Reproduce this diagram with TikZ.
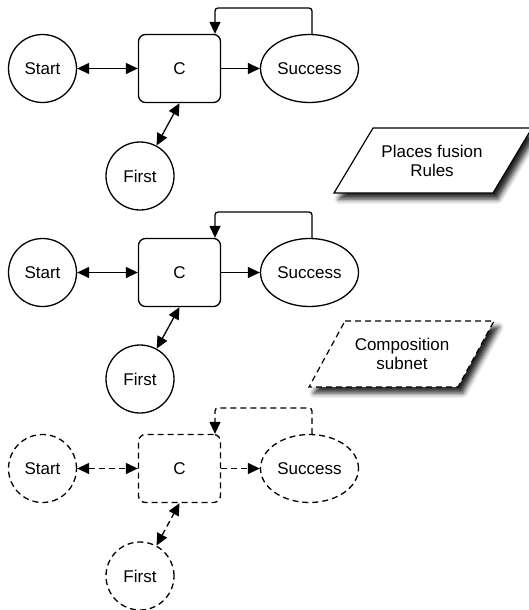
\documentclass[tikz,border=0pt]{standalone}
\usepackage{fontspec}
\setmainfont{Liberation Sans}
\usetikzlibrary{arrows.meta,shapes.geometric,shadows.blur}
\begin{document}
\begin{tikzpicture}[x=1pt,y=-1pt,
  every node/.style={font=\fontsize{17}{18.5}\selectfont},
  base/.style={draw=black, line width=1.3pt},
  place/.style={base, circle, minimum size=68pt, inner sep=0pt},
  goal/.style={base, ellipse, minimum width=98pt, minimum height=68pt, inner sep=0pt},
  trans/.style={base, rectangle, rounded corners=7pt, minimum width=82pt, minimum height=68pt, inner sep=0pt},
  tip/.style={Triangle[length=12pt,width=11pt,fill=black]},
  conn/.style={line width=1.3pt, {Triangle[length=12pt,width=11pt,fill=black]}-{Triangle[length=12pt,width=11pt,fill=black]}},
  oneway/.style={line width=1.3pt, -{Triangle[length=12pt,width=11pt,fill=black]}},
  dsh/.style={dash pattern=on 6pt off 4pt},
  note/.style={draw=black, line width=1.2pt, fill=white,
    blur shadow={shadow xshift=5pt, shadow yshift=-6pt, shadow blur radius=5pt, shadow opacity=85}},
  label/.style={align=center, inner sep=0pt}
]
\useasboundingbox (0,0) rectangle (528,610);

% ---------- group 1 ----------
\node[place] (s1) at (42.5,68.5) {Start};
\node[trans] (c1) at (179.5,68.5) {C};
\node[goal]  (g1) at (309.5,68.5) {Success};
\node[place] (f1) at (140,176) {First};
\coordinate (t1) at (215,8);
\draw[conn] (s1) -- (c1);
\draw[oneway] (c1) -- (g1);
\draw[conn] (f1) -- (c1.south);
\draw[oneway, rounded corners=3pt] ([xshift=2.5pt]g1.north) |- (t1) -- (t1 |- c1.north);

% ---------- group 2 ----------
\node[place] (s2) at (42.5,272.5) {Start};
\node[trans] (c2) at (179.5,272.5) {C};
\node[goal]  (g2) at (309.5,272.5) {Success};
\node[place] (f2) at (140,379) {First};
\coordinate (t2) at (215,212);
\draw[conn] (s2) -- (c2);
\draw[oneway] (c2) -- (g2);
\draw[conn] (f2) -- (c2.south);
\draw[oneway, rounded corners=3pt] ([xshift=2.5pt]g2.north) |- (t2) -- (t2 |- c2.north);

% ---------- group 3 (dashed) ----------
\node[place, dsh] (s3) at (42.5,468.5) {Start};
\node[trans, dsh] (c3) at (179.5,468.5) {C};
\node[goal, dsh]  (g3) at (309.5,468.5) {Success};
\node[place, dsh] (f3) at (140,576) {First};
\coordinate (t3) at (215,408);
\draw[conn, dsh] (s3) -- (c3);
\draw[oneway, dsh] (c3) -- (g3);
\draw[conn, dsh] (f3) -- (c3.south);
\draw[oneway, dsh, rounded corners=3pt] ([xshift=2.5pt]g3.north) |- (t3) -- (t3 |- c3.north);

% ---------- notes (drawn last) ----------
\begin{scope}
\path[note] (373,128) -- (532,128) -- (493,193) -- (334,193) -- cycle;
\end{scope}
\node[label] (n1) at (432,161) {Places fusion\\Rules};
\begin{scope}
\path[note, dsh] (345,321) -- (494,321) -- (458,387) -- (309,387) -- cycle;
\end{scope}
\node[label] (n2) at (402,354) {Composition\\subnet};
\end{tikzpicture}
\end{document}
